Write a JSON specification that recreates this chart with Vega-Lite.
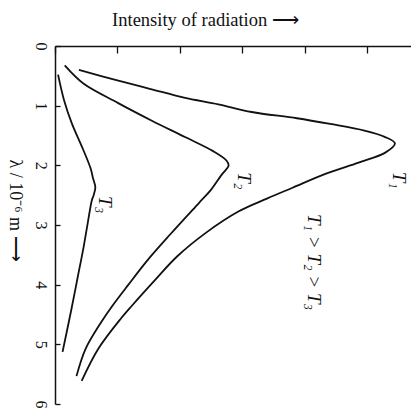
{
  "$schema": "https://vega.github.io/schema/vega-lite/v6.json",
  "width": 356,
  "height": 358,
  "autosize": {"type": "none"},
  "padding": {"left": 55, "top": 46, "right": 0, "bottom": 7},
  "background": "white",
  "config": {
    "font": "Liberation Serif",
    "view": {"stroke": null},
    "axis": {"grid": false, "domainColor": "#111", "domainWidth": 1.5, "tickColor": "#111", "tickWidth": 1.3, "labelColor": "#111", "titleColor": "#111", "titleFontWeight": "normal"}
  },
  "datasets": {
    "curves": [
      {"series": "T1", "I": 0.383, "lam": 0.400},
      {"series": "T1", "I": 0.998, "lam": 0.576},
      {"series": "T1", "I": 1.532, "lam": 0.721},
      {"series": "T1", "I": 2.066, "lam": 0.866},
      {"series": "T1", "I": 2.615, "lam": 0.978},
      {"series": "T1", "I": 3.148, "lam": 1.106},
      {"series": "T1", "I": 3.873, "lam": 1.211},
      {"series": "T1", "I": 4.405, "lam": 1.307},
      {"series": "T1", "I": 4.954, "lam": 1.418},
      {"series": "T1", "I": 5.278, "lam": 1.522},
      {"series": "T1", "I": 5.443, "lam": 1.632},
      {"series": "T1", "I": 5.288, "lam": 1.787},
      {"series": "T1", "I": 4.861, "lam": 1.953},
      {"series": "T1", "I": 4.339, "lam": 2.140},
      {"series": "T1", "I": 3.803, "lam": 2.376},
      {"series": "T1", "I": 3.393, "lam": 2.558},
      {"series": "T1", "I": 2.936, "lam": 2.775},
      {"series": "T1", "I": 2.420, "lam": 3.128},
      {"series": "T1", "I": 1.954, "lam": 3.528},
      {"series": "T1", "I": 1.600, "lam": 3.924},
      {"series": "T1", "I": 1.231, "lam": 4.353},
      {"series": "T1", "I": 1.062, "lam": 4.559},
      {"series": "T1", "I": 0.696, "lam": 5.071},
      {"series": "T1", "I": 0.427, "lam": 5.613},
      {"series": "T2", "I": 0.156, "lam": 0.326},
      {"series": "T2", "I": 0.455, "lam": 0.630},
      {"series": "T2", "I": 1.012, "lam": 0.957},
      {"series": "T2", "I": 1.551, "lam": 1.252},
      {"series": "T2", "I": 2.090, "lam": 1.530},
      {"series": "T2", "I": 2.531, "lam": 1.762},
      {"series": "T2", "I": 2.745, "lam": 1.919},
      {"series": "T2", "I": 2.780, "lam": 2.001},
      {"series": "T2", "I": 2.658, "lam": 2.172},
      {"series": "T2", "I": 2.490, "lam": 2.420},
      {"series": "T2", "I": 2.300, "lam": 2.636},
      {"series": "T2", "I": 1.850, "lam": 3.151},
      {"series": "T2", "I": 1.476, "lam": 3.596},
      {"series": "T2", "I": 1.170, "lam": 4.007},
      {"series": "T2", "I": 0.911, "lam": 4.365},
      {"series": "T2", "I": 0.744, "lam": 4.621},
      {"series": "T2", "I": 0.488, "lam": 5.079},
      {"series": "T2", "I": 0.344, "lam": 5.533},
      {"series": "T3", "I": 0.049, "lam": 0.480},
      {"series": "T3", "I": 0.145, "lam": 0.908},
      {"series": "T3", "I": 0.271, "lam": 1.301},
      {"series": "T3", "I": 0.447, "lam": 1.726},
      {"series": "T3", "I": 0.571, "lam": 2.054},
      {"series": "T3", "I": 0.609, "lam": 2.218},
      {"series": "T3", "I": 0.646, "lam": 2.366},
      {"series": "T3", "I": 0.619, "lam": 2.500},
      {"series": "T3", "I": 0.590, "lam": 2.584},
      {"series": "T3", "I": 0.524, "lam": 2.969},
      {"series": "T3", "I": 0.458, "lam": 3.370},
      {"series": "T3", "I": 0.364, "lam": 3.872},
      {"series": "T3", "I": 0.270, "lam": 4.374},
      {"series": "T3", "I": 0.121, "lam": 5.127}
    ],
    "labels": [
      {"text": "T₁", "I": 5.50, "lam": 2.25},
      {"text": "T₂", "I": 3.02, "lam": 2.26},
      {"text": "T₃", "I": 0.80, "lam": 2.66},
      {"text": "T₁ > T₂ > T₃", "I": 4.15, "lam": 3.62}
    ]
  },
  "layer": [
    {
      "data": {"name": "curves"},
      "mark": {"type": "line", "interpolate": "catmull-rom", "color": "#111", "strokeWidth": 1.8},
      "encoding": {
        "x": {
          "field": "I", "type": "quantitative",
          "scale": {"domain": [0, 5.7], "nice": false, "zero": false},
          "axis": {
            "orient": "top", "values": [0, 1, 2, 3, 4, 5], "labels": false, "tickSize": -7,
            "title": "Intensity of radiation ⟶", "titleFont": "Liberation Serif", "titleFontSize": 18.5,
            "titleX": 150, "titleY": -21, "titleAlign": "center", "titleBaseline": "alphabetic"
          }
        },
        "y": {
          "field": "lam", "type": "quantitative",
          "scale": {"domain": [0, 6], "reverse": true, "nice": false, "zero": false},
          "axis": {
            "orient": "left", "values": [0, 1, 2, 3, 4, 5, 6], "format": "d", "tickSize": -5,
            "labelAngle": 90, "labelAlign": "center", "labelBaseline": "top", "labelPadding": 12,
            "labelFont": "Liberation Serif", "labelFontSize": 16, "labelFlush": false, "labelOverlap": false,
            "title": "λ / 10⁻⁶ m  ⟶", "titleFont": "Liberation Serif", "titleFontSize": 18,
            "titleAngle": 90, "titleX": -41, "titleY": 164, "titleAlign": "center", "titleBaseline": "middle"
          }
        },
        "detail": {"field": "series"},
        "order": {"field": "lam", "type": "quantitative"}
      }
    },
    {
      "data": {"name": "labels"},
      "mark": {"type": "text", "angle": 90, "align": "center", "baseline": "middle", "font": "Liberation Serif", "fontStyle": "italic", "fontSize": 19, "color": "#111"},
      "encoding": {
        "x": {"field": "I", "type": "quantitative"},
        "y": {"field": "lam", "type": "quantitative"},
        "text": {"field": "text"}
      }
    }
  ]
}
